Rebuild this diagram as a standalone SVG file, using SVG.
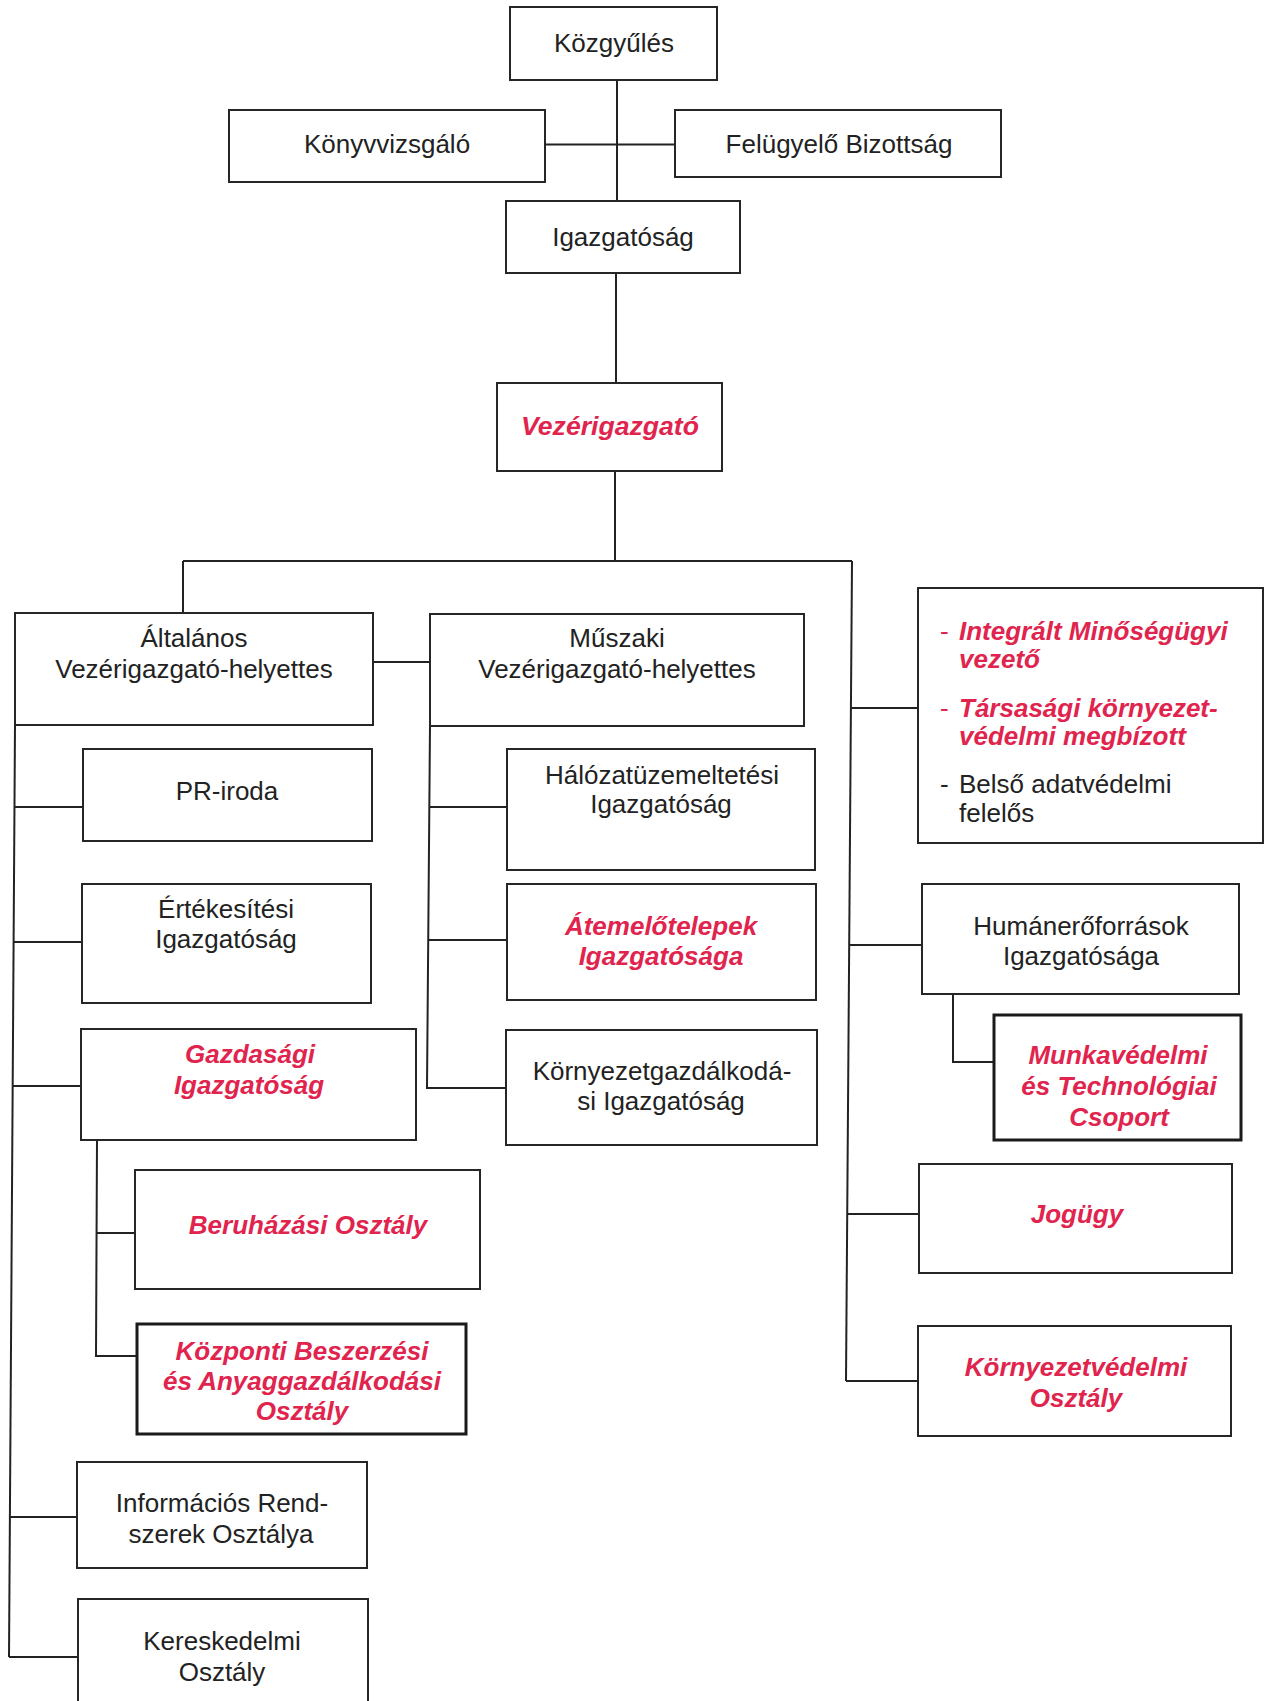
<svg xmlns="http://www.w3.org/2000/svg" width="1270" height="1701" viewBox="0 0 1270 1701">
<style>
rect{fill:#fff;stroke:#262626;stroke-width:2}
rect.thick{stroke-width:3;stroke:#1a1a1a}
text{font-family:"Liberation Sans",Arial,sans-serif;font-size:26px;fill:#222}
text.c{text-anchor:middle}
text.r{fill:#e0244e;font-weight:bold;font-style:italic}
.d{font-weight:normal;font-style:normal}
#connectors path{fill:none;stroke:#222;stroke-width:2}
</style>
<rect x="0" y="0" width="1270" height="1701" style="fill:#fff;stroke:none"/>
<g id="connectors">
<path d="M617,80 V201"/>
<path d="M545,144.5 H675"/>
<path d="M616,273 V383"/>
<path d="M615,471 V561"/>
<path d="M183,561 H852"/>
<path d="M183,561 V613"/>
<path d="M852,561 L846,1381"/>
<path d="M851,708 H918"/>
<path d="M850,945 H922"/>
<path d="M848,1214 H919"/>
<path d="M846,1381 H918"/>
<path d="M373,662 H430"/>
<path d="M15,725 L9,1657"/>
<path d="M14,807 H83"/>
<path d="M14,942 H82"/>
<path d="M13,1086 H81"/>
<path d="M10,1517 H77"/>
<path d="M9,1657 H78"/>
<path d="M430,726 L427,1088 H506"/>
<path d="M429,807 H507"/>
<path d="M428,940 H507"/>
<path d="M97,1140 L96,1356 H137"/>
<path d="M97,1233 H135"/>
<path d="M953,994 V1062 H994"/>
</g>
<g id="kozgyules"><rect x="510" y="7" width="207" height="73"/><text class="c" x="614" y="52">Közgyűlés</text></g>
<g id="konyvvizsgalo"><rect x="229" y="110" width="316" height="72"/><text class="c" x="387" y="153">Könyvvizsgáló</text></g>
<g id="felugyelo"><rect x="675" y="110" width="326" height="67"/><text class="c" x="839" y="153">Felügyelő Bizottság</text></g>
<g id="igazgatosag"><rect x="506" y="201" width="234" height="72"/><text class="c" x="623" y="246">Igazgatóság</text></g>
<g id="vezerigazgato"><rect x="497" y="383" width="225" height="88"/><text class="c r" x="610" y="435" textLength="178" lengthAdjust="spacingAndGlyphs">Vezérigazgató</text></g>
<g id="altalanos"><rect x="15" y="613" width="358" height="112"/><text class="c" x="194" y="647">Általános</text><text class="c" x="194" y="678">Vezérigazgató-helyettes</text></g>
<g id="muszaki"><rect x="430" y="614" width="374" height="112"/><text class="c" x="617" y="647">Műszaki</text><text class="c" x="617" y="678">Vezérigazgató-helyettes</text></g>
<g id="pr-iroda"><rect x="83" y="749" width="289" height="92"/><text class="c" x="227" y="800">PR-iroda</text></g>
<g id="ertekesitesi"><rect x="82" y="884" width="289" height="119"/><text class="c" x="226" y="918">Értékesítési</text><text class="c" x="226" y="948">Igazgatóság</text></g>
<g id="gazdasagi"><rect x="81" y="1029" width="335" height="111"/><text class="c r" x="250" y="1063">Gazdasági</text><text class="c r" x="249" y="1094">Igazgatóság</text></g>
<g id="beruhazasi"><rect x="135" y="1170" width="345" height="119"/><text class="c r" x="308" y="1234">Beruházási Osztály</text></g>
<g id="kozponti"><rect class="thick" x="137" y="1324" width="329" height="110"/><text class="c r" x="302" y="1360">Központi Beszerzési</text><text class="c r" x="302" y="1390">és Anyaggazdálkodási</text><text class="c r" x="302" y="1420">Osztály</text></g>
<g id="informacios"><rect x="77" y="1462" width="290" height="106"/><text class="c" x="222" y="1512">Információs Rend-</text><text class="c" x="221" y="1543">szerek Osztálya</text></g>
<g id="kereskedelmi"><rect x="78" y="1599" width="290" height="110"/><text class="c" x="222" y="1650">Kereskedelmi</text><text class="c" x="222" y="1681">Osztály</text></g>
<g id="halozat"><rect x="507" y="749" width="308" height="121"/><text class="c" x="662" y="784">Hálózatüzemeltetési</text><text class="c" x="661" y="813">Igazgatóság</text></g>
<g id="atemelo"><rect x="507" y="884" width="309" height="116"/><text class="c r" x="661" y="935">Átemelőtelepek</text><text class="c r" x="661" y="965">Igazgatósága</text></g>
<g id="kornyezetgazdalkodasi"><rect x="506" y="1030" width="311" height="115"/><text class="c" x="662" y="1080">Környezetgazdálkodá-</text><text class="c" x="661" y="1110">si Igazgatóság</text></g>
<g id="megbizottak"><rect x="918" y="588" width="345" height="255"/>
<text class="r" x="940" y="640"><tspan class="d">-</tspan><tspan x="959">Integrált Minőségügyi</tspan></text>
<text class="r" x="959" y="668">vezető</text>
<text class="r" x="940" y="717"><tspan class="d">-</tspan><tspan x="959">Társasági környezet-</tspan></text>
<text class="r" x="959" y="745">védelmi megbízott</text>
<text x="940" y="793">-<tspan x="959">Belső adatvédelmi</tspan></text>
<text x="959" y="822">felelős</text>
</g>
<g id="humaneroforrasok"><rect x="922" y="884" width="317" height="110"/><text class="c" x="1081" y="935">Humánerőforrások</text><text class="c" x="1081" y="965">Igazgatósága</text></g>
<g id="munkavedelmi"><rect class="thick" x="994" y="1015" width="247" height="125"/><text class="c r" x="1118" y="1064">Munkavédelmi</text><text class="c r" x="1119" y="1095">és Technológiai</text><text class="c r" x="1119" y="1126">Csoport</text></g>
<g id="jogugy"><rect x="919" y="1164" width="313" height="109"/><text class="c r" x="1077" y="1223">Jogügy</text></g>
<g id="kornyezetvedelmi"><rect x="918" y="1326" width="313" height="110"/><text class="c r" x="1076" y="1376">Környezetvédelmi</text><text class="c r" x="1076" y="1407">Osztály</text></g>
</svg>
